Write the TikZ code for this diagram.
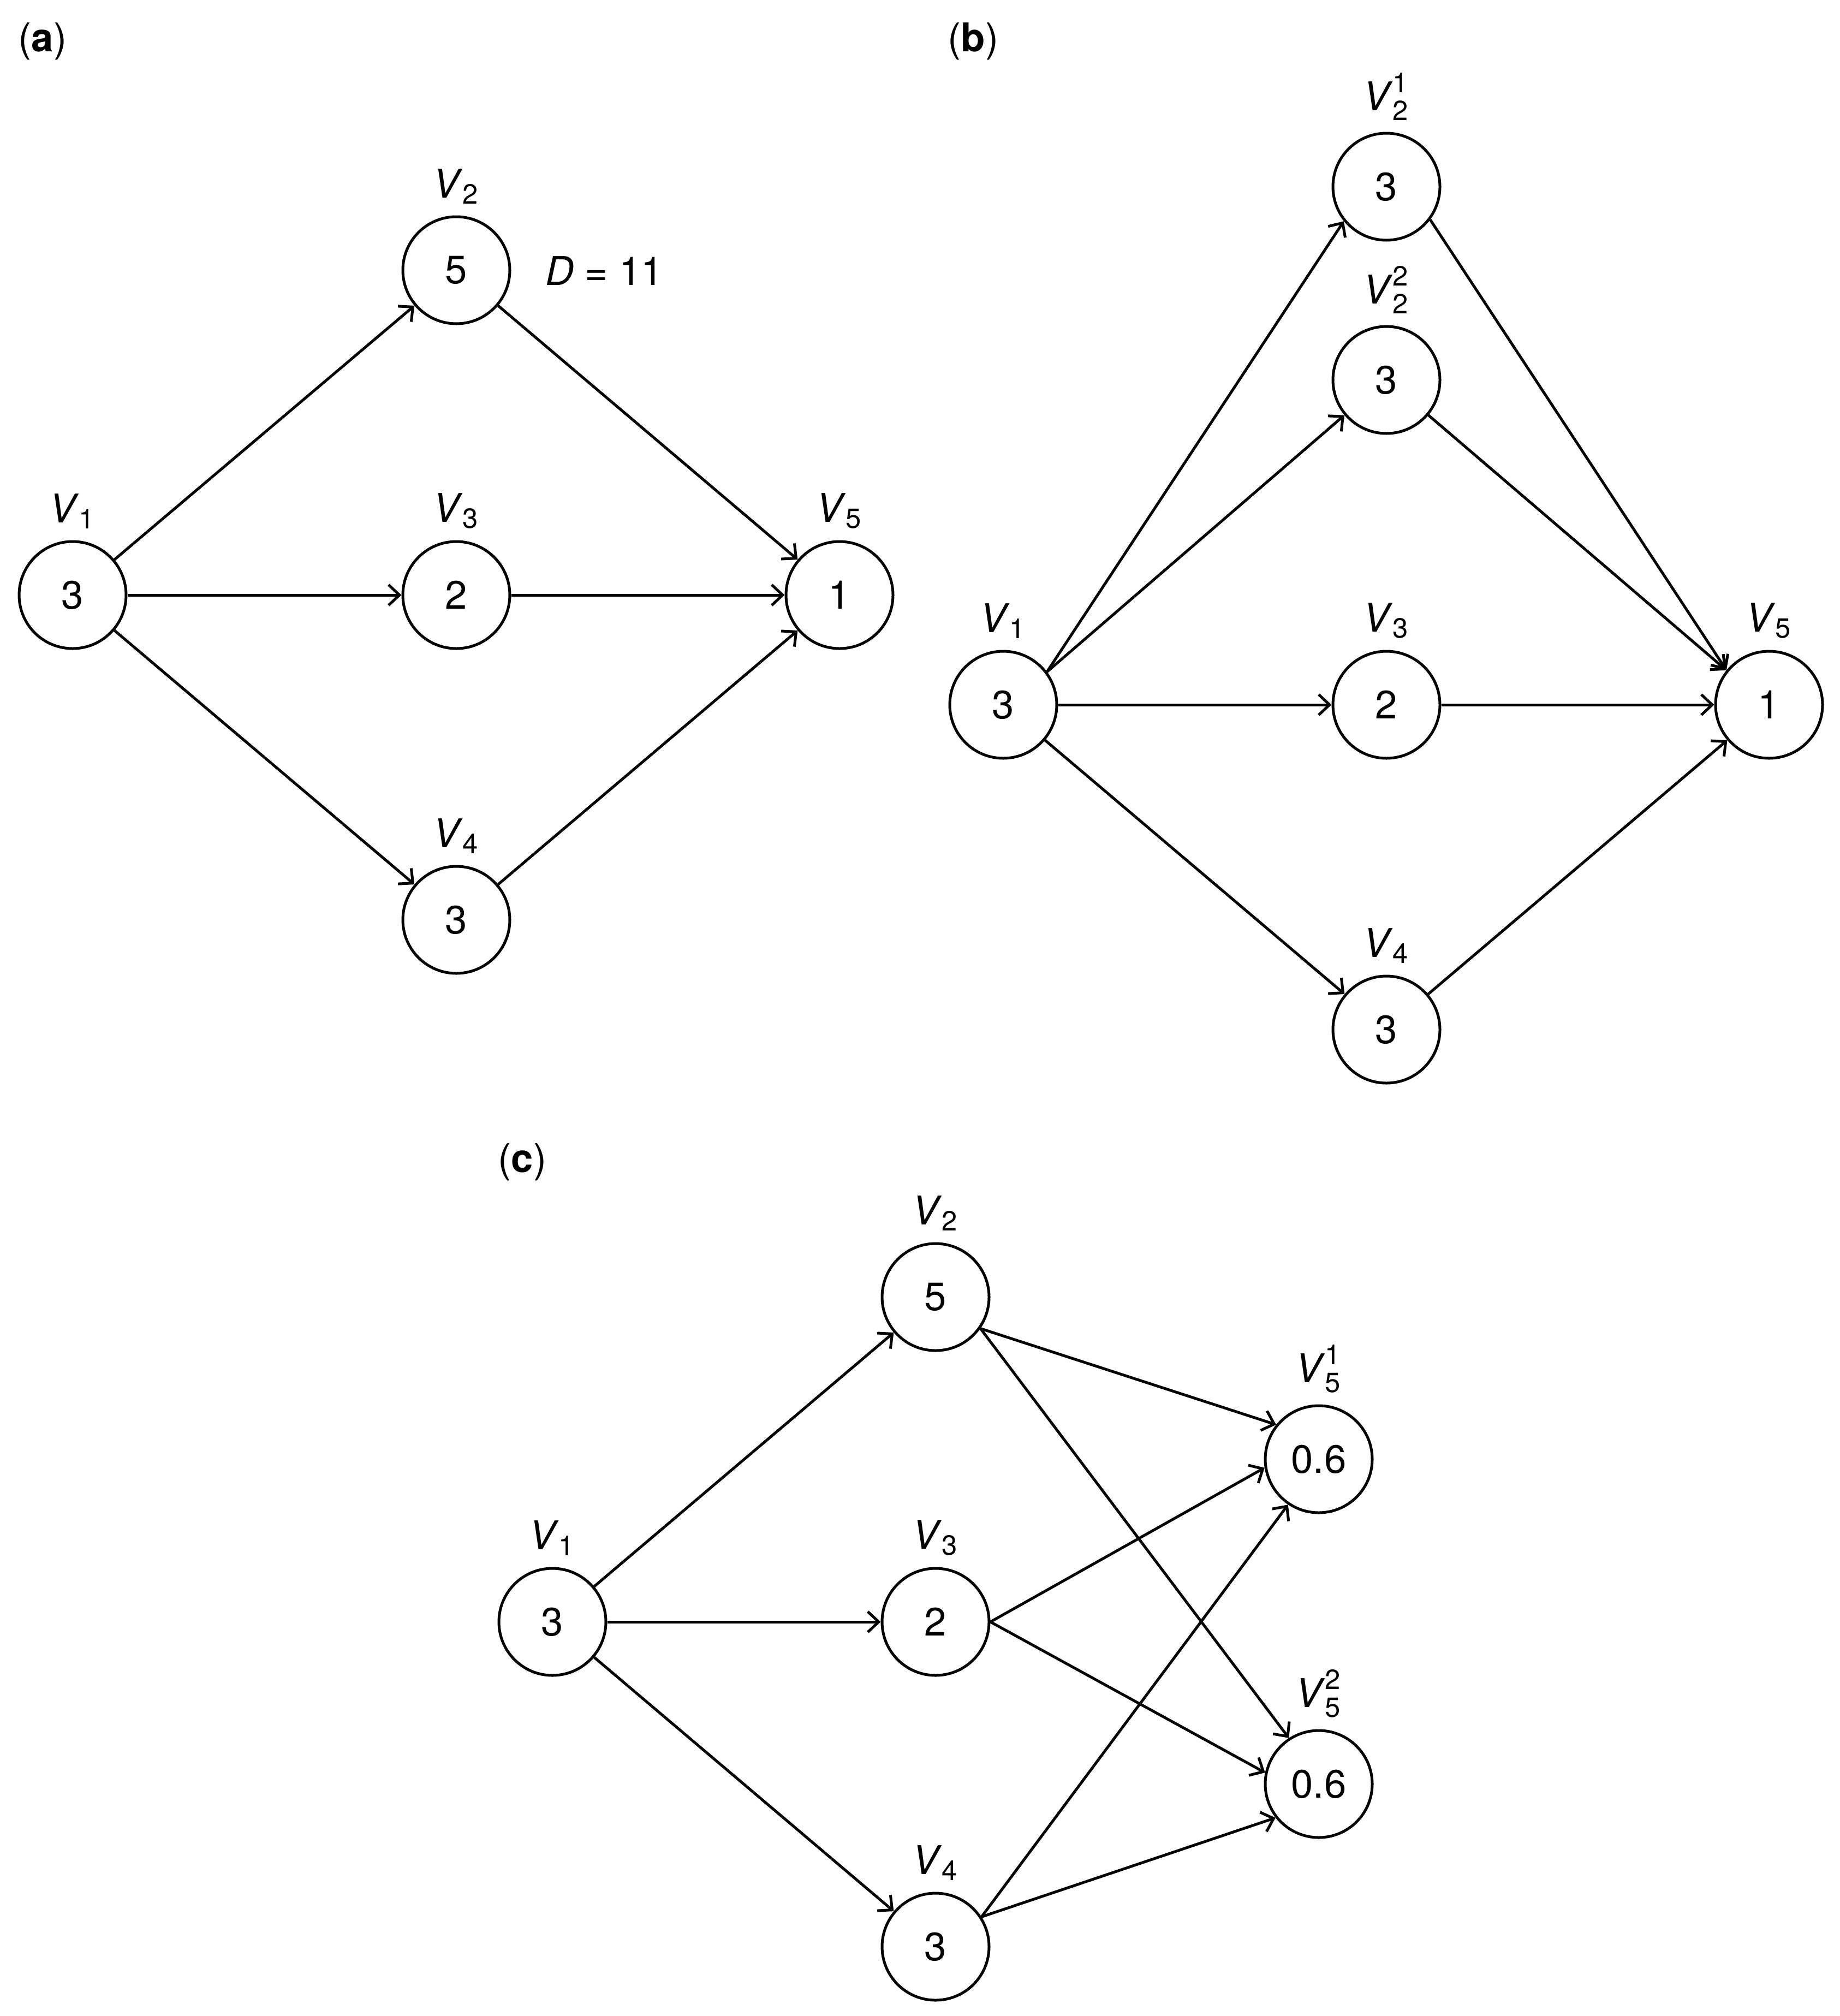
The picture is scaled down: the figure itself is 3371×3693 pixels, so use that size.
\documentclass[tikz,border=0pt]{standalone}
\usepackage{amsmath}
\usepackage{fontspec}
\setmainfont{TeX Gyre Heros}
\usetikzlibrary{arrows.meta}
\newcommand{\vsub}[1]{$\text{\textit{V}}_{\text{#1}}$}
\newcommand{\vsubsup}[2]{$\text{\textit{V}}_{\text{#1}}^{\text{#2}}$}

\begin{document}
\fontsize{14.5}{17}\selectfont
\begin{tikzpicture}[x=0.2pt,y=-0.2pt,label distance=4pt]
                        \tikzstyle{vert}=[circle,draw,line width=1pt,minimum size=39.2pt,inner sep=0pt]
                        \tikzstyle{arc}=[line width=1pt,-{Straight Barb[length=4pt,width=7.5pt]}]
                        \tikzstyle{every label}=[inner sep=0pt]
                        \tikzstyle{panel}=[inner sep=0pt]
                        \useasboundingbox (0,0) rectangle (3371,3693);
                        % (a)
                        \node[panel] (pa) at (78,76) {(\textbf{a})};
                        \node[vert,label=above:\vsub{1}] (a1) at (133,1090) {3};
                        \node[vert,label=above:\vsub{2}] (a2) at (836,495) {5};
                        \node[vert,label=above:\vsub{3}] (a3) at (836,1090) {2};
                        \node[vert,label=above:\vsub{4}] (a4) at (836,1685) {3};
                        \node[vert,label=above:\vsub{5}] (a5) at (1538,1090) {1};
                        \node[inner sep=0pt] (dur) at (1107,496) {\textit{D} = 11};
                        \foreach \s/\t in {a1/a2,a1/a3,a1/a4,a2/a5,a3/a5,a4/a5}
                            \draw[arc] (\s) -- (\t);
                        % (b)
                        \node[panel] (pb) at (1783,76) {(\textbf{b})};
                        \node[vert,label=above:\vsub{1}] (b1) at (1838,1291) {3};
                        \node[vert,label=above:\vsubsup{2}{1}] (b21) at (2540,342) {3};
                        \node[vert,label=above:\vsubsup{2}{2}] (b22) at (2540,696) {3};
                        \node[vert,label=above:\vsub{3}] (b3) at (2540,1291) {2};
                        \node[vert,label=above:\vsub{4}] (b4) at (2540,1886) {3};
                        \node[vert,label=above:\vsub{5}] (b5) at (3241,1291) {1};
                        \foreach \s/\t in {b1.37/b21.219,b1.37/b22.220,b1/b3,b1/b4,b21.-37/b5.141,b22.-40/b5.141,b3/b5,b4/b5}
                            \draw[arc] (\s) -- (\t);
                        % (c)
                        \node[panel] (pc) at (957,2129) {(\textbf{c})};
                        \node[vert,label=above:\vsub{1}] (c1) at (1012,2971) {3};
                        \node[vert,label=above:\vsub{2}] (c2) at (1714,2376) {5};
                        \node[vert,label=above:\vsub{3}] (c3) at (1714,2971) {2};
                        \node[vert,label=above:\vsub{4}] (c4) at (1714,3566) {3};
                        \node[vert,label=above:\vsubsup{5}{1}] (c51) at (2416,2673) {0.6};
                        \node[vert,label=above:\vsubsup{5}{2}] (c52) at (2416,3268) {0.6};
                        \foreach \s/\t in {c1/c2,c1/c3,c1/c4,c2.-35/c51.141,c2.-35/c52.123,c3.east/c51.189,c3.east/c52.168,c4.33/c51.236,c4.33/c52.218}
                            \draw[arc] (\s) -- (\t);
\end{tikzpicture}
\end{document}
